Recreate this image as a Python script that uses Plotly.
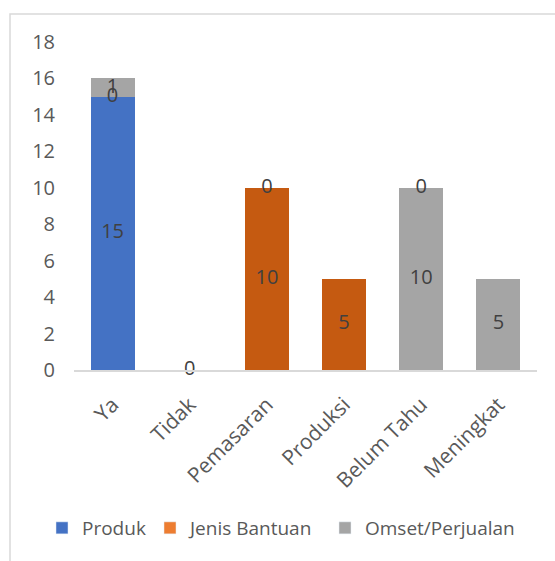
import plotly.graph_objects as go

categories = ["Ya", "Tidak", "Pemasaran", "Produksi", "Belum Tahu", "Meningkat"]
produk = [15, 0, None, None, None, None]
jenis_bantuan = [0, None, 10, 5, None, None]
omset = [1, None, 0, None, 10, 5]
extra = [None, None, None, None, 0, None]  # unlabeled zero label on Belum Tahu

series_names = ["Produk", "Jenis Bantuan", "Omset/Perjualan"]
bar_colors = ["#4472C4", "#C55A11", "#A5A5A5"]
legend_colors = ["#4472C4", "#ED7D31", "#A5A5A5"]
y_ticks = [0, 2, 4, 6, 8, 10, 12, 14, 16, 18]

FONT = "Open Sans"
FS = 20

fig = go.Figure()

all_series = [produk, jenis_bantuan, omset, extra]
base = [0.0] * len(categories)
lx, ly, lt = [], [], []
for si, vals in enumerate(all_series):
    if si < 3:
        fig.add_trace(go.Bar(
            x=categories, y=[v if v is not None else 0 for v in vals],
            marker=dict(color=bar_colors[si], line=dict(width=0)),
            showlegend=False, hoverinfo="skip", width=0.57,
        ))
    for i, v in enumerate(vals):
        if v is None:
            continue
        lx.append(categories[i])
        ly.append(base[i] + v / 2)
        lt.append(str(v))
        base[i] += v

legend_ids = ["legend", "legend2", "legend3"]
for si in range(3):
    fig.add_trace(go.Bar(x=[None], y=[None], name=series_names[si],
                         marker=dict(color=legend_colors[si]),
                         legend=legend_ids[si]))

fig.add_trace(go.Scatter(
    x=lx, y=ly, text=lt, mode="text", showlegend=False, hoverinfo="skip",
    textfont=dict(family=FONT, size=FS, color="#404040"),
    textposition="middle center", cliponaxis=False,
))

W, H = 555, 561
L, R, T, B = 74, 18, 42, 191
pw, ph = W - L - R, H - T - B

def px_x(p):
    return (p - L) / pw

def px_y(p):
    return (H - B - p) / ph

fig.add_shape(type="rect", xref="paper", yref="paper",
              x0=px_x(10), x1=px_x(600), y0=px_y(620), y1=px_y(14),
              line=dict(color="#D9D9D9", width=1.5), fillcolor="rgba(0,0,0,0)",
              layer="below")

def leg(xpix):
    return dict(orientation="h", xref="container", yref="container",
                x=xpix / W, xanchor="left", y=1 - 528 / H, yanchor="middle",
                font=dict(family=FONT, size=19, color="#595959"),
                itemclick=False, itemdoubleclick=False, bgcolor="rgba(0,0,0,0)")

fig.update_layout(
    width=W, height=H,
    margin=dict(l=L, r=R, t=T, b=B, autoexpand=False),
    barmode="stack", bargap=0.43,
    plot_bgcolor="white", paper_bgcolor="white",
    font=dict(family=FONT, size=FS, color="#595959"),
    xaxis=dict(type="category", categoryorder="array", categoryarray=categories,
               tickangle=-45, showgrid=False, showline=True, linecolor="#D9D9D9",
               linewidth=2, ticks="", ticklabelstandoff=12, automargin=False,
               tickfont=dict(family=FONT, size=21, color="#595959")),
    yaxis=dict(range=[0, 18], tickvals=y_ticks, showgrid=False, zeroline=False,
               showline=False, ticks="", ticklabelstandoff=18, automargin=False,
               tickfont=dict(family=FONT, size=FS, color="#595959")),
    legend=leg(79 - 37),
    legend2=leg(187 - 37),
    legend3=leg(362 - 37),
)

fig.write_html("out.html")
